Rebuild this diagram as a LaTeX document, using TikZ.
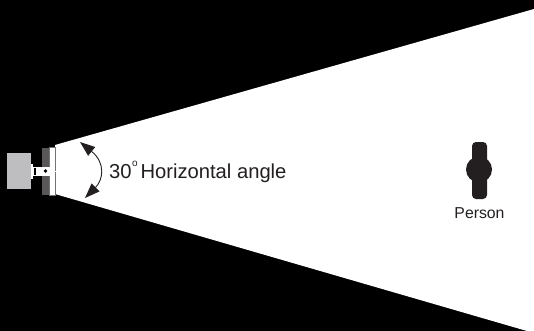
\documentclass[tikz,border=0pt]{standalone}
\usepackage{fontspec}
\setmainfont{Liberation Sans}
\usetikzlibrary{arrows.meta, positioning}

\definecolor{housing}{RGB}{190,190,192}
\definecolor{inkdark}{RGB}{35,31,32}

\begin{document}
\begin{tikzpicture}[x=1pt, y=-1pt, every node/.style={draw=none, inner sep=0pt, text=inkdark}]
        % background and beam
        \fill[black] (0,0) rectangle (534,331);
        \useasboundingbox (0,0) rectangle (534,331);
        \fill[white] (55,145) -- (534,9) -- (534,331) -- (527,331) -- (55,194) -- cycle;

        % camera
        \fill[housing] (7,153) rectangle (31,189);
        \fill[inkdark!75] (42,148) rectangle (49,195);
        \fill[white] (49,147) rectangle (56,195);
        \draw[black!55, line width=0.5pt] (49.3,147) rectangle (55.7,195);
        \draw[black, line width=0.6pt] (49,171) -- (56,171);
        \fill[white] (31,164) rectangle (32.5,179);
        \fill[white] (32.5,167) rectangle (50,176);
        \fill[black] (33.5,168) rectangle (36,175);
        \fill[black] (45.5,171) circle (1.8);
        \draw[white, line width=1pt] (50,171) -- (56,171);

        % angle arrow
        \coordinate (top) at (80,142);
        \coordinate (bottom) at (85,198);
        \draw[inkdark, line width=0.9pt, {Triangle[length=15pt,width=11pt]}-{Triangle[length=15pt,width=11pt]}]
            (top) .. controls (106,163) and (103,180) .. (bottom);
        \node (label) [anchor=west, font=\fontsize{20.2}{24}\selectfont] at (109,172) {30\hspace{0.5pt}\raisebox{1.05ex}{\fontsize{10}{10}\selectfont o}\hspace{2.8pt}Horizontal angle};

        % person
        \fill[inkdark, rounded corners=4pt] (472,142) rectangle (487,199);
        \fill[inkdark] (479,169.5) circle (13);
        \node (person) [font=\fontsize{15.8}{18}\selectfont] at (479.5,213) {Person};
\end{tikzpicture}
\end{document}
